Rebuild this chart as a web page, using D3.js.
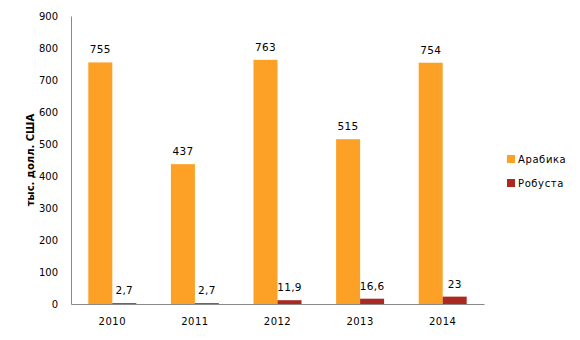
<!DOCTYPE html>
<html>
<head>
<meta charset="utf-8">
<script src="https://cdn.jsdelivr.net/npm/d3@7"></script>
<style>
  body { margin: 0; background: #fff; }
  svg text { font-family: "DejaVu Sans", Verdana, sans-serif; fill: #000; }
</style>
</head>
<body>
<svg id="chart" width="580" height="340"></svg>
<script>
// Coffee export values, thousand USD
const years = ["2010", "2011", "2012", "2013", "2014"];
const arabica = [755, 437, 763, 515, 754];
const robusta = [2.7, 2.7, 11.9, 16.6, 23];
const arabicaLabels = ["755", "437", "763", "515", "754"];
const robustaLabels = ["2,7", "2,7", "11,9", "16,6", "23"];
const seriesNames = ["Арабика", "Робуста"];
const seriesColors = ["#FDA026", "#A82A20"];
const yTicks = [0, 100, 200, 300, 400, 500, 600, 700, 800, 900];
const yTitle = "тыс. долл. США";

const svg = d3.select("#chart");
const plotLeft = 71, plotRight = 484, plotTop = 16, plotBottom = 304;

const x = d3.scaleBand().domain(years).range([plotLeft, plotRight]).paddingInner(0).paddingOuter(0);
const y = d3.scaleLinear().domain([0, 900]).range([plotBottom, plotTop]);
const barW = 24;

// value axis
const yAxis = svg.append("g").attr("transform", `translate(${plotLeft},0)`)
  .call(d3.axisLeft(y).tickValues(yTicks).tickSize(0).tickPadding(13));
yAxis.select(".domain").attr("stroke", "#888");
yAxis.selectAll("text").attr("font-size", 10).attr("fill", "#000");

// category axis
const xAxis = svg.append("g").attr("transform", `translate(0,${plotBottom})`)
  .call(d3.axisBottom(x).tickSize(0).tickPadding(14));
xAxis.select(".domain").attr("stroke", "#888");
xAxis.selectAll("text").attr("font-size", 10).attr("fill", "#000").attr("letter-spacing", "0.5px");

const seriesData = [arabica, robusta];
const seriesLabels = [arabicaLabels, robustaLabels];

seriesData.forEach((vals, si) => {
  const bx = d => x(d) + x.bandwidth() / 2 + (si === 0 ? -barW : 0);
  svg.append("g").selectAll("rect").data(years).join("rect")
    .attr("x", d => bx(d))
    .attr("y", (d, i) => y(vals[i]))
    .attr("width", barW)
    .attr("height", (d, i) => y(0) - y(vals[i]))
    .attr("fill", seriesColors[si]);
  svg.append("g").selectAll("text").data(years).join("text")
    .attr("x", d => bx(d) + barW / 2)
    .attr("y", (d, i) => y(vals[i]) - 9)
    .attr("text-anchor", "middle")
    .attr("font-size", 10.5)
    .attr("letter-spacing", "0.3px")
    .text((d, i) => seriesLabels[si][i]);
});

// axis title
svg.append("text")
  .attr("transform", "translate(34,160) rotate(-90)")
  .attr("text-anchor", "middle")
  .attr("font-size", 10)
  .attr("font-weight", "bold")
  .text(yTitle);

// legend
const legend = svg.append("g");
seriesNames.forEach((name, i) => {
  const ly = 155 + i * 24;
  legend.append("rect").attr("x", 507).attr("y", ly).attr("width", 8).attr("height", 8).attr("fill", seriesColors[i]);
  legend.append("text").attr("x", 518).attr("y", ly + 8).attr("font-size", 10)
    .attr("letter-spacing", "0.6px").text(name);
});
</script>
</body>
</html>
